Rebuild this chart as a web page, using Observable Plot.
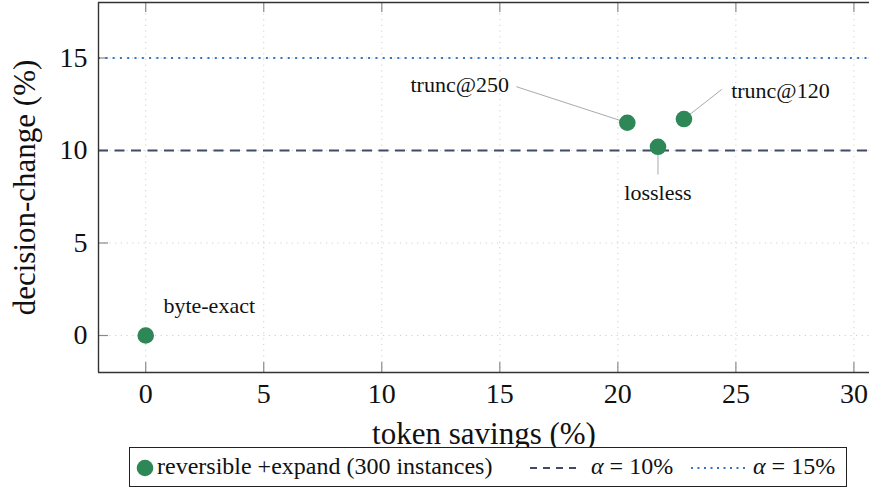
<!DOCTYPE html>
<html><head><meta charset="utf-8">
<script src="https://cdn.jsdelivr.net/npm/d3@7"></script>
<script src="https://cdn.jsdelivr.net/npm/@observablehq/plot@0.6"></script>
<style>
html,body{margin:0;padding:0;background:#fff;}
#wrap{position:relative;width:869px;height:491px;overflow:hidden;font-family:"Liberation Serif",serif;}
#legend{position:absolute;left:129px;top:447px;width:716px;height:38px;border:1.5px solid #222;font-size:24px;color:#111;background:#fff;}
#legend > *{position:absolute;white-space:nowrap;}
</style></head>
<body><div id="wrap"></div>
<script>
// data
const methods = ["byte-exact", "trunc@250", "lossless", "trunc@120"];
const tokenSavings = [0, 20.4, 21.7, 22.8];
const decisionChange = [0, 11.5, 10.2, 11.7];
// annotation label anchors (data units) and leader-line ends
const labelX = [0.75, 13.3, 21.7, 24.8];
const labelY = [1.6, 13.55, 7.7, 13.2];
const leaderX = [null, 15.7, 21.7, 24.4];
const leaderY = [null, 13.45, 8.7, 13.3];
const labelAnchor = ["start", "middle", "middle", "start"];
const thresholds = [10, 15];
const xTicks = [0, 5, 10, 15, 20, 25, 30];
const yTicks = [0, 5, 10, 15];
const xDomain = [-2, 30.66];
const yDomain = [-2, 18];

const pts = methods.map((m, i) => ({m, x: tokenSavings[i], y: decisionChange[i], lx: labelX[i], ly: labelY[i], ex: leaderX[i], ey: leaderY[i], a: labelAnchor[i]}));
const leaders = pts.filter(d => d.ex != null);

const green = "#2e8757";
const dashCol = "#3e4a68";
const dotCol = "#3574c0";
const gridCol = "#cfcfcf";
const tickCol = "#8a8a8a";
const xTickLen = 10 / 23.61, yTickLen = 10 / 18.67;

const chart = Plot.plot({
  width: 869, height: 491,
  marginLeft: 98, marginRight: 0, marginTop: 2, marginBottom: 119,
  style: {fontFamily: "Liberation Serif, serif", background: "#fff", color: "#111"},
  x: {domain: xDomain},
  y: {domain: yDomain},
  marks: [
    Plot.ruleX(xTicks, {stroke: gridCol, strokeWidth: 1, strokeDasharray: "1.2,4.5"}),
    Plot.ruleY(yTicks, {stroke: gridCol, strokeWidth: 1, strokeDasharray: "1.2,4.5"}),
    // inward tick marks
    Plot.ruleX(xTicks, {y1: yDomain[0], y2: yDomain[0] + yTickLen, stroke: tickCol, strokeWidth: 1.2}),
    Plot.ruleX(xTicks, {y1: yDomain[1], y2: yDomain[1] - yTickLen, stroke: tickCol, strokeWidth: 1.2}),
    Plot.ruleY(yTicks, {x1: xDomain[0], x2: xDomain[0] + xTickLen, stroke: tickCol, strokeWidth: 1.2}),
    Plot.ruleY([thresholds[0]], {stroke: dashCol, strokeWidth: 2, strokeDasharray: "10,6.5"}),
    Plot.ruleY([thresholds[1]], {stroke: dotCol, strokeWidth: 2, strokeDasharray: "2,5.3"}),
    Plot.axisX(xTicks, {tickSize: 0, tickPadding: 11, fontSize: 28, label: "token savings (%)", labelAnchor: "center", labelArrow: "none", labelOffset: 71}),
    Plot.axisY(yTicks, {tickSize: 0, tickPadding: 11, fontSize: 28, label: "decision-change (%)", labelAnchor: "center", labelArrow: "none", labelOffset: 86}),
    Plot.link(leaders, {x1: "x", y1: "y", x2: "ex", y2: "ey", stroke: "#aaa", strokeWidth: 1}),
    Plot.dot(pts, {x: "x", y: "y", r: 8.3, fill: green}),
    Plot.text(pts.filter(d => d.a === "start"), {x: "lx", y: "ly", text: "m", textAnchor: "start", fontSize: 22, lineAnchor: "middle", fill: "#111"}),
    Plot.text(pts.filter(d => d.a === "middle"), {x: "lx", y: "ly", text: "m", textAnchor: "middle", fontSize: 22, lineAnchor: "middle", fill: "#111"}),
    // frame (right side falls outside the view)
    Plot.ruleY([yDomain[0], yDomain[1]], {stroke: "#333", strokeWidth: 1.4}),
    Plot.ruleX([xDomain[0]], {stroke: "#333", strokeWidth: 1.4})
  ]
});
const wrap = document.getElementById("wrap");
wrap.appendChild(chart);
// bigger axis labels
chart.querySelectorAll("g[aria-label='x-axis label'] text, g[aria-label='y-axis label'] text").forEach(t => t.setAttribute("font-size", "31"));

const legend = document.createElement("div");
legend.id = "legend";
legend.innerHTML = `
<svg width="20" height="20" style="left:5px;top:10px"><circle cx="10" cy="10" r="8.3" fill="${green}"/></svg>
<span style="left:27px;top:5px">reversible +expand (300 instances)</span>
<svg width="52" height="10" style="left:400px;top:15px"><line x1="0" y1="5" x2="52" y2="5" stroke="${dashCol}" stroke-width="2" stroke-dasharray="7,6"/></svg>
<span style="left:461px;top:5px"><i>α</i> = 10%</span>
<svg width="58" height="10" style="left:561px;top:15px"><line x1="0" y1="5" x2="58" y2="5" stroke="${dotCol}" stroke-width="2" stroke-dasharray="2,4.5"/></svg>
<span style="left:623px;top:5px"><i>α</i> = 15%</span>`;
wrap.appendChild(legend);
</script></body></html>
